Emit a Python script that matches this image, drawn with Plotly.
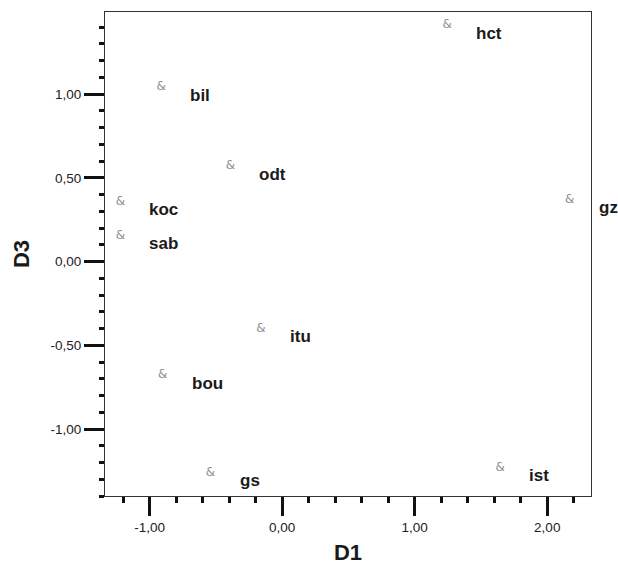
import plotly.graph_objects as go

# ---- data ----
names = ["hct", "bil", "odt", "koc", "sab", "gz", "itu", "bou", "gs", "ist"]
d1 = [1.245, -0.913, -0.39, -1.22, -1.22, 2.17, -0.16, -0.90, -0.54, 1.645]
d3 = [1.41, 1.04, 0.57, 0.356, 0.154, 0.37, -0.40, -0.68, -1.26, -1.23]

x_tick_vals = [-1, 0, 1, 2]
x_tick_text = ["-1,00", "0,00", "1,00", "2,00"]
y_tick_vals = [-1, -0.5, 0, 0.5, 1]
y_tick_text = ["-1,00", "-0,50", "0,00", "0,50", "1,00"]

FONT = "Liberation Sans, Arial, sans-serif"

fig = go.Figure()
fig.add_trace(go.Scatter(
    x=d1, y=d3, mode="text", text=["&"] * len(d1),
    textposition="middle center",
    textfont=dict(family="DejaVu Sans", size=12, color="#8f8f8f"),
    hoverinfo="skip", showlegend=False, cliponaxis=False,
))

for n, x, y in zip(names, d1, d3):
    fig.add_annotation(
        x=x, y=y, text=n, showarrow=False, xanchor="left", yanchor="middle",
        xshift=27, yshift=-8,
        font=dict(family=FONT, size=17, color="#1a1a1a", weight="bold"),
    )

axis_common = dict(
    showgrid=False, zeroline=False, showline=True, mirror=True,
    linecolor="#333333", linewidth=1,
    ticks="outside", tickwidth=3, tickcolor="#111111",
    tickfont=dict(family=FONT, size=13.5, color="#222222"),
    tickmode="array",
)

fig.update_xaxes(
    **axis_common, range=[-1.336, 2.33], ticklen=19,
    tickvals=x_tick_vals, ticktext=x_tick_text,
    minor=dict(tickmode="linear", tick0=0, dtick=0.2, ticks="outside",
               ticklen=6, tickwidth=3, tickcolor="#111111"),
    title=dict(text="D1", font=dict(family=FONT, size=22, color="#1a1a1a", weight="bold"),
               standoff=10),
)
fig.update_yaxes(
    **axis_common, range=[-1.4, 1.49], ticklen=20,
    tickvals=y_tick_vals, ticktext=y_tick_text,
    minor=dict(tickmode="linear", tick0=0, dtick=0.1, ticks="outside",
               ticklen=5, tickwidth=3, tickcolor="#111111"),
    title=dict(text="D3", font=dict(family=FONT, size=22, color="#1a1a1a", weight="bold"),
               standoff=14),
)

fig.update_layout(
    width=618, height=572,
    margin=dict(l=105, r=27, t=11, b=75),
    paper_bgcolor="white", plot_bgcolor="white",
    showlegend=False,
)

fig.write_html("out.html", config={"displayModeBar": False},
               post_script="document.body.style.margin='0';")
